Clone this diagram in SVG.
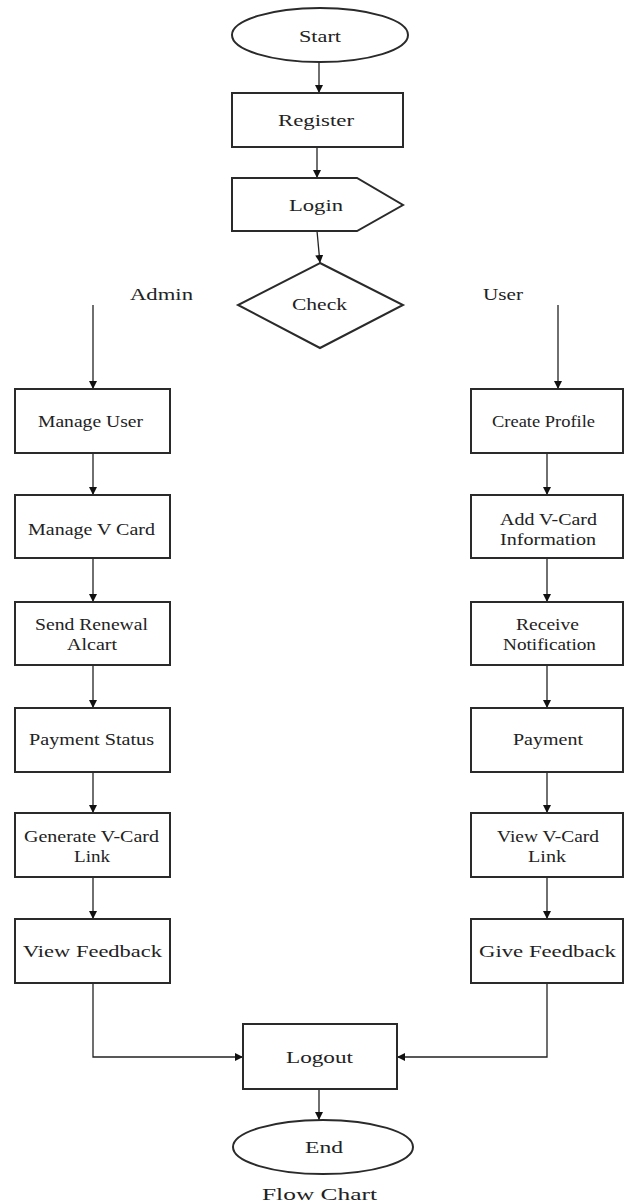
<svg xmlns="http://www.w3.org/2000/svg" width="627" height="1204" viewBox="0 0 627 1204">
<defs>
<style>
.n{fill:#fff;stroke:#2a2a2a;stroke-width:2}
.t{font-family:"Liberation Serif","Times New Roman",serif;font-size:17px;fill:#222;text-anchor:start}
.c{fill:none;stroke:#222;stroke-width:1.3}
</style>
<marker id="a" viewBox="0 0 10 10" refX="10" refY="5" markerWidth="8" markerHeight="8" markerUnits="userSpaceOnUse" orient="auto">
<path d="M0,0 L10,5 L0,10 Z" fill="#111"/>
</marker>
</defs>
<rect width="627" height="1204" fill="#fff"/>
<g id="connectors">
<line class="c" x1="319" y1="62" x2="319" y2="93" marker-end="url(#a)"/>
<line class="c" x1="317" y1="147" x2="317" y2="178" marker-end="url(#a)"/>
<line class="c" x1="317" y1="231" x2="320" y2="263" marker-end="url(#a)"/>
<line class="c" x1="93" y1="305" x2="93" y2="389" marker-end="url(#a)"/>
<line class="c" x1="558" y1="305" x2="558" y2="389" marker-end="url(#a)"/>
<line class="c" x1="93" y1="453" x2="93" y2="495" marker-end="url(#a)"/>
<line class="c" x1="93" y1="558" x2="93" y2="602" marker-end="url(#a)"/>
<line class="c" x1="93" y1="665" x2="93" y2="708" marker-end="url(#a)"/>
<line class="c" x1="93" y1="772" x2="93" y2="813" marker-end="url(#a)"/>
<line class="c" x1="93" y1="877" x2="93" y2="919" marker-end="url(#a)"/>
<line class="c" x1="547" y1="453" x2="547" y2="495" marker-end="url(#a)"/>
<line class="c" x1="547" y1="558" x2="547" y2="602" marker-end="url(#a)"/>
<line class="c" x1="547" y1="665" x2="547" y2="708" marker-end="url(#a)"/>
<line class="c" x1="547" y1="772" x2="547" y2="813" marker-end="url(#a)"/>
<line class="c" x1="547" y1="877" x2="547" y2="919" marker-end="url(#a)"/>
<polyline class="c" points="93,983 93,1057 243,1057" marker-end="url(#a)"/>
<polyline class="c" points="547,983 547,1057 397,1057" marker-end="url(#a)"/>
<line class="c" x1="319" y1="1089" x2="319" y2="1120" marker-end="url(#a)"/>
</g>
<g id="start"><ellipse class="n" cx="320" cy="35" rx="88" ry="27"/><text class="t" x="299" y="42" font-size="18" textLength="42" lengthAdjust="spacingAndGlyphs">Start</text></g>
<g id="register"><rect class="n" x="232" y="93" width="171" height="54"/><text class="t" x="278" y="126" font-size="18" textLength="76" lengthAdjust="spacingAndGlyphs">Register</text></g>
<g id="login"><polygon class="n" points="232,178 357,178 403,205 357,231 232,231"/><text class="t" x="289" y="211" font-size="18" textLength="54" lengthAdjust="spacingAndGlyphs">Login</text></g>
<g id="check"><polygon class="n" points="320,263 403,305 320,348 238,305"/><text class="t" x="292" y="310" font-size="18" textLength="55" lengthAdjust="spacingAndGlyphs" fill="#444">Check</text></g>
<g id="admin-label"><text class="t" x="130" y="300" font-size="18" textLength="63" lengthAdjust="spacingAndGlyphs">Admin</text></g>
<g id="user-label"><text class="t" x="483" y="300" font-size="18" textLength="40" lengthAdjust="spacingAndGlyphs">User</text></g>
<g id="manage-user"><rect class="n" x="15" y="389" width="155" height="64"/><text class="t" x="38" y="427" textLength="105" lengthAdjust="spacingAndGlyphs">Manage User</text></g>
<g id="manage-vcard"><rect class="n" x="15" y="495" width="155" height="63"/><text class="t" x="28" y="535" textLength="127" lengthAdjust="spacingAndGlyphs">Manage V Card</text></g>
<g id="send-renewal"><rect class="n" x="15" y="602" width="155" height="63"/><text class="t" x="35" y="630" textLength="113" lengthAdjust="spacingAndGlyphs">Send Renewal</text><text class="t" x="67" y="650" textLength="50" lengthAdjust="spacingAndGlyphs">Alcart</text></g>
<g id="payment-status"><rect class="n" x="15" y="708" width="155" height="64"/><text class="t" x="29" y="745" textLength="125" lengthAdjust="spacingAndGlyphs">Payment Status</text></g>
<g id="generate-link"><rect class="n" x="15" y="813" width="155" height="64"/><text class="t" x="24" y="842" textLength="135" lengthAdjust="spacingAndGlyphs">Generate V-Card</text><text class="t" x="74" y="862" textLength="36" lengthAdjust="spacingAndGlyphs">Link</text></g>
<g id="view-feedback"><rect class="n" x="15" y="919" width="155" height="64"/><text class="t" x="23" y="957" font-size="18" textLength="139" lengthAdjust="spacingAndGlyphs">View Feedback</text></g>
<g id="create-profile"><rect class="n" x="471" y="389" width="152" height="64"/><text class="t" x="492" y="427" textLength="103" lengthAdjust="spacingAndGlyphs">Create Profile</text></g>
<g id="add-vcard"><rect class="n" x="471" y="495" width="152" height="63"/><text class="t" x="500" y="525" textLength="97" lengthAdjust="spacingAndGlyphs">Add V-Card</text><text class="t" x="500" y="545" textLength="96" lengthAdjust="spacingAndGlyphs">Information</text></g>
<g id="receive-notification"><rect class="n" x="471" y="602" width="152" height="63"/><text class="t" x="516" y="630" textLength="63" lengthAdjust="spacingAndGlyphs">Receive</text><text class="t" x="503" y="650" textLength="93" lengthAdjust="spacingAndGlyphs">Notification</text></g>
<g id="payment"><rect class="n" x="471" y="708" width="152" height="64"/><text class="t" x="513" y="745" textLength="70" lengthAdjust="spacingAndGlyphs">Payment</text></g>
<g id="view-link"><rect class="n" x="471" y="813" width="152" height="64"/><text class="t" x="497" y="842" textLength="102" lengthAdjust="spacingAndGlyphs">View V-Card</text><text class="t" x="528" y="862" textLength="38" lengthAdjust="spacingAndGlyphs">Link</text></g>
<g id="give-feedback"><rect class="n" x="471" y="919" width="152" height="64"/><text class="t" x="479" y="957" font-size="18" textLength="137" lengthAdjust="spacingAndGlyphs">Give Feedback</text></g>
<g id="logout"><rect class="n" x="243" y="1024" width="154" height="65"/><text class="t" x="286" y="1063" font-size="18" textLength="67" lengthAdjust="spacingAndGlyphs">Logout</text></g>
<g id="end"><ellipse class="n" cx="323" cy="1147" rx="90" ry="27"/><text class="t" x="305" y="1153" font-size="18" textLength="38" lengthAdjust="spacingAndGlyphs">End</text></g>
<g id="caption"><text class="t" x="262" y="1200" font-size="22" fill="#000" textLength="115" lengthAdjust="spacingAndGlyphs">Flow Chart</text></g>
</svg>
